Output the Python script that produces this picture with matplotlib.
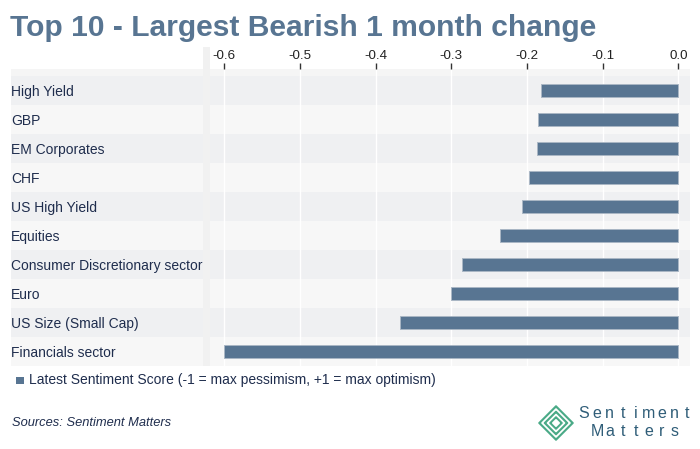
import matplotlib.pyplot as plt
import matplotlib.transforms as mtransforms
from matplotlib.patches import Rectangle, Polygon

plt.rcParams["font.family"] = ["Liberation Sans", "DejaVu Sans"]

# data (top row first)
categories = [
    "High Yield", "GBP", "EM Corporates", "CHF", "US High Yield", "Equities",
    "Consumer Discretionary sector", "Euro", "US Size (Small Cap)", "Financials sector",
]
scores = [-0.182, -0.185, -0.187, -0.197, -0.207, -0.235, -0.286, -0.300, -0.368, -0.601]
xticks = [-0.6, -0.5, -0.4, -0.3, -0.2, -0.1, 0.0]

BAR = "#587592"
TXT = "#1f2d4d"
W, H = 700, 449

fig = plt.figure(figsize=(7, 4.49), dpi=100)
fig.patch.set_facecolor("white")


def fx(px):
    return px / W


def fy(py):
    return 1 - py / H


ax = fig.add_axes([fx(210), fy(366), fx(690) - fx(210), fy(69) - fy(366)])
ax.set_facecolor("#f5f5f5")
n = len(categories)
ypos = list(range(n))[::-1]
ax.set_ylim(-0.5, n - 0.5 + 7 / 29)
ax.set_xlim(-0.619, 0.0155)

# alternate row bands, also behind the label column
blend = mtransforms.blended_transform_factory(fig.transFigure, ax.transData)
for i, y in enumerate(ypos):
    col = "#eff0f2" if i % 2 == 0 else "#f7f7f7"
    ax.axhspan(y - 0.5, y + 0.5, color=col, zorder=0, lw=0)
    fig.patches.append(Rectangle((fx(11), y - 0.5), fx(203) - fx(11), 1.0,
                                 transform=blend, facecolor=col, lw=0, zorder=-1))
    fig.text(fx(11), 0, categories[i], transform=blend, ha="left", va="center_baseline",
             fontsize=10, color=TXT, zorder=5).set_y(y)
fig.patches.append(Rectangle((fx(11), n - 0.5), fx(203) - fx(11), 7 / 29,
                             transform=blend, facecolor="#f5f5f5", lw=0, zorder=-1))
# thin separator strip between labels and plot
fig.patches.append(Rectangle((fx(203), fy(366)), fx(210) - fx(203), fy(47) - fy(366),
                             transform=fig.transFigure, facecolor="#f1f1f1", lw=0, zorder=-1))

for x in xticks:
    ax.axvline(x, color="white", lw=1.0, zorder=1)

ax.barh(ypos, scores, height=0.48, color=BAR, edgecolor="#aab7c5", linewidth=0.7, zorder=2)

ax.xaxis.tick_top()
ax.set_xticks(xticks)
ax.set_xticklabels([f"{v:.1f}" for v in xticks])
ax.tick_params(axis="x", length=4, width=1, color="#333333", pad=1,
               labelsize=9.6, labelcolor="#222222")
ax.set_yticks([])
for s in ax.spines.values():
    s.set_visible(False)

# title
fig.text(fx(10), fy(36), "Top 10 - Largest Bearish 1 month change", ha="left",
         va="baseline", fontsize=21.6, fontweight="bold", color="#587592")

# legend
fig.patches.append(Rectangle((fx(16), fy(384)), fx(7.5), 7.5 / H, transform=fig.transFigure,
                             facecolor=BAR, lw=0))
fig.text(fx(29), fy(380), "Latest Sentiment Score (-1 = max pessimism, +1 = max optimism)",
         ha="left", va="center", fontsize=10, color=TXT)

fig.text(fx(12), fy(423), "Sources: Sentiment Matters", ha="left", va="center",
         fontsize=9.3, style="italic", color=TXT)

# logo: concentric diamonds
cx, cy = 556, 423
green = "#4aaa87"
for r, c in [(17, green), (14, "white"), (11.5, green), (8.5, "white"), (6, green), (3.2, "white")]:
    pts = [(fx(cx - r), fy(cy)), (fx(cx), fy(cy - r)), (fx(cx + r), fy(cy)), (fx(cx), fy(cy + r))]
    fig.patches.append(Polygon(pts, closed=True, transform=fig.transFigure,
                               facecolor=c, edgecolor=c, lw=1.2, joinstyle="round"))


def spaced(word, x0, y, step):
    for k, ch in enumerate(word):
        fig.text(fx(x0 + k * step), fy(y), ch, ha="center", va="center",
                 fontsize=11.5, color="#2f5d78")


spaced("Sentiment", 584, 413, 12.9)
spaced("Matters", 597, 431, 12.9)

fig.savefig("out.png", dpi=100)
